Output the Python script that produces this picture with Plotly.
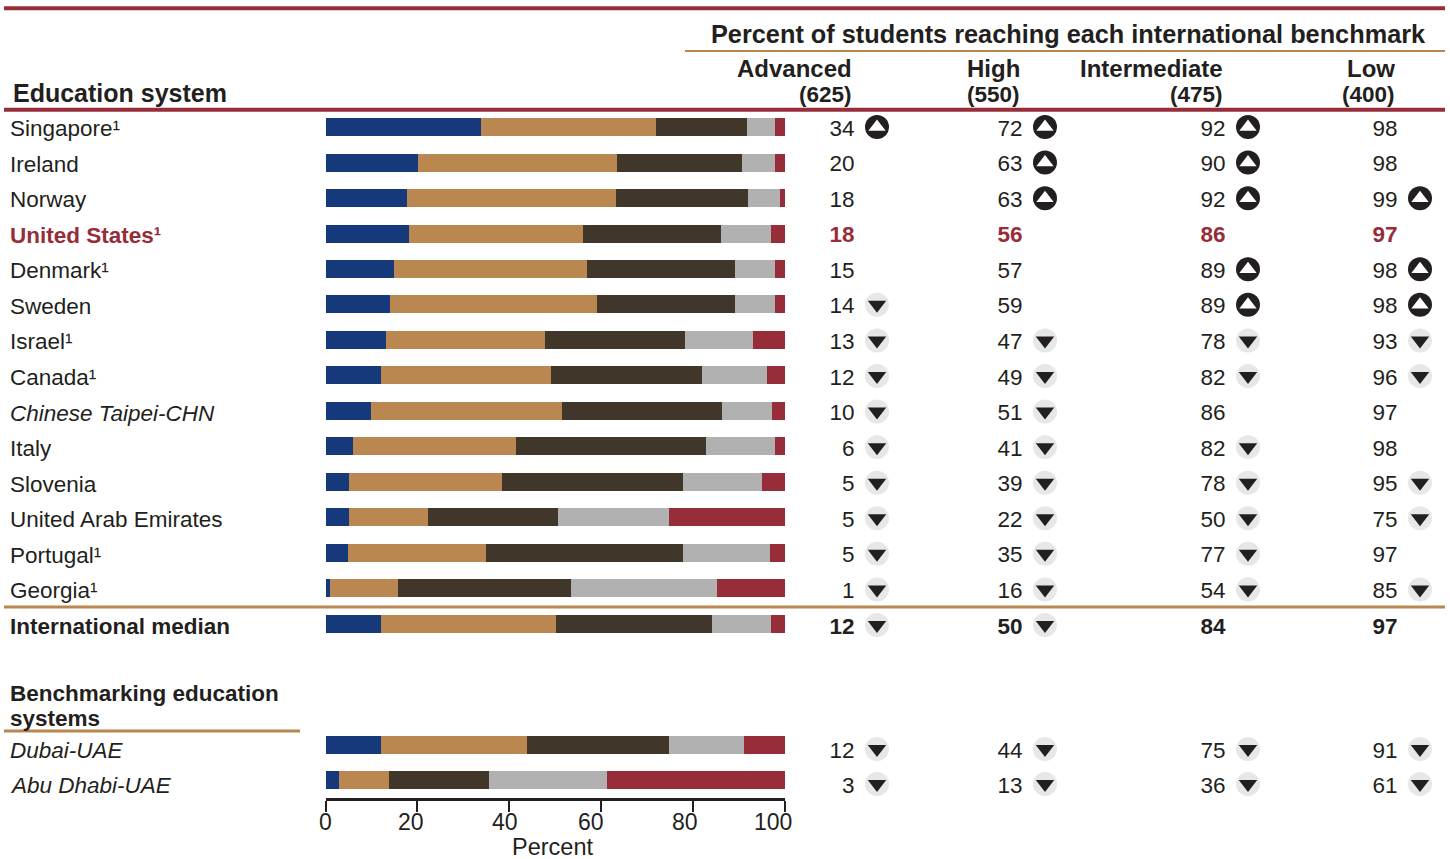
import plotly.graph_objects as go

W, H = 1450, 859
INK = "#231f20"
RED = "#962d39"
TAN = "#ba8751"
FONT = "Liberation Sans"

systems = ["Singapore¹", "Ireland", "Norway", "United States¹", "Denmark¹", "Sweden", "Israel¹",
           "Canada¹", "<i>Chinese Taipei-CHN</i>", "Italy", "Slovenia", "United Arab Emirates",
           "Portugal¹", "Georgia¹", "International median", "<i>Dubai-UAE</i>", "<i>Abu Dhabi-UAE</i>"]

# Percent reaching each benchmark
bar_advanced = [33.8, 20.0, 17.6, 18.0, 14.8, 13.9, 13.0, 12.0, 9.8, 5.9, 5.0, 5.0, 4.8, 0.9, 11.9, 12.0, 2.9]
bar_high = [71.9, 63.4, 63.2, 55.9, 56.9, 58.9, 47.6, 48.9, 51.4, 41.4, 38.4, 22.1, 34.9, 15.7, 50.0, 43.8, 13.7]
bar_intermediate = [91.7, 90.6, 91.9, 85.9, 88.9, 89.0, 78.1, 81.8, 86.1, 82.6, 77.7, 50.4, 77.8, 53.4, 84.0, 74.7, 35.5]
bar_low = [97.8, 97.8, 98.9, 96.8, 97.8, 97.8, 92.9, 96.0, 97.0, 97.8, 94.8, 74.6, 96.7, 85.0, 96.8, 90.9, 61.2]

# Rounded values printed in the table
table_advanced = [34, 20, 18, 18, 15, 14, 13, 12, 10, 6, 5, 5, 5, 1, 12, 12, 3]
table_high = [72, 63, 63, 56, 57, 59, 47, 49, 51, 41, 39, 22, 35, 16, 50, 44, 13]
table_intermediate = [92, 90, 92, 86, 89, 89, 78, 82, 86, 82, 78, 50, 77, 54, 84, 75, 36]
table_low = [98, 98, 99, 97, 98, 98, 93, 96, 97, 98, 95, 75, 97, 85, 97, 91, 61]

# Significance flags: u = higher than the U.S., d = lower, "" = no difference
sig_advanced = ["u", "", "", "", "", "d", "d", "d", "d", "d", "d", "d", "d", "d", "d", "d", "d"]
sig_high = ["u", "u", "u", "", "", "", "d", "d", "d", "d", "d", "d", "d", "d", "d", "d", "d"]
sig_intermediate = ["u", "u", "u", "", "u", "u", "d", "d", "", "d", "d", "d", "d", "d", "", "d", "d"]
sig_low = ["", "", "u", "", "u", "u", "d", "d", "", "", "d", "d", "", "d", "", "d", "d"]

tick_values = [0, 20, 40, 60, 80, 100]
tick_shifts = [0, -6, -4, -10, -8, -12]

rows = list(range(15)) + [17.49, 18.47]
bar_rows = [i * 0.998 for i in range(15)] + [17.37, 18.36]
US, MEDIAN = 3, 14

ROW0, STEP = 127.0, 35.57
AX_TOP, AX_BOT = 109, 797.5
y_range = [(AX_BOT - ROW0) / STEP, (AX_TOP - ROW0) / STEP]
y_domain = [1 - AX_BOT / H, 1 - AX_TOP / H]
px = lambda v: v / W
py = lambda v: 1 - v / H

fig = go.Figure()

segments = [
    (bar_advanced, [0] * 17, "#15397a"),
    (bar_high, bar_advanced, TAN),
    (bar_intermediate, bar_high, "#40372a"),
    (bar_low, bar_intermediate, "#b1b1b1"),
    ([100] * 17, bar_low, RED),
]
for top, bottom, color in segments:
    fig.add_trace(go.Bar(x=[a - b for a, b in zip(top, bottom)], base=bottom, y=bar_rows, orientation="h",
                         width=18 / STEP, marker=dict(color=color, line_width=0),
                         xaxis="x", yaxis="y", showlegend=False))

columns = [
    (table_advanced, sig_advanced, 854.5, 877),
    (table_high, sig_high, 1022.5, 1045),
    (table_intermediate, sig_intermediate, 1225.5, 1248),
    (table_low, sig_low, 1397.5, 1420),
]
for values, flags, text_x, mark_x in columns:
    labels = []
    for i, v in enumerate(values):
        labels.append(f"<b>{v}</b>" if i in (US, MEDIAN) else str(v))
    fig.add_trace(go.Scatter(x=[text_x] * 17, y=[r + 3 / STEP for r in rows], mode="text", text=labels,
                             textposition="middle left",
                             textfont=dict(family=FONT, size=22.5,
                                           color=[RED if i == US else INK for i in range(17)]),
                             xaxis="x2", yaxis="y", showlegend=False, cliponaxis=False))
    ups = [r for r, f in zip(rows, flags) if f == "u"]
    downs = [r for r, f in zip(rows, flags) if f == "d"]
    for ys, bg, fg, sym, sz in [
        (downs, "#e6e7e8", INK, "triangle-down", 16),
        (ups, INK, "white", "triangle-up", 15),
    ]:
        fig.add_trace(go.Scatter(x=[mark_x] * len(ys), y=ys, mode="markers",
                                 marker=dict(symbol="circle", size=24, color=bg, line_width=0),
                                 xaxis="x2", yaxis="y", showlegend=False, cliponaxis=False))
        fig.add_trace(go.Scatter(x=[mark_x] * len(ys), y=ys, mode="markers",
                                 marker=dict(symbol=sym, size=sz, color=fg, line_width=0),
                                 xaxis="x2", yaxis="y", showlegend=False, cliponaxis=False))

ann = []
def text(s, x, y, anchor="left", size=22.5, color=INK):
    ann.append(dict(text=s, x=px(x), y=py(y), xref="paper", yref="paper", xanchor=anchor, yanchor="middle",
                    showarrow=False, align=anchor, font=dict(family=FONT, size=size, color=color)))

for i, (name, r) in enumerate(zip(systems, rows)):
    label = f"<b>{name}</b>" if i in (US, MEDIAN) else name
    ann.append(dict(text=label, x=px(8), y=r + 1.5 / STEP, xref="paper", yref="y", xanchor="left", yanchor="middle",
                    showarrow=False, font=dict(family=FONT, size=22.5, color=RED if i == US else INK)))

text("<b>Percent of students reaching each international benchmark</b>", 709, 34, size=25.3)
text("<b>Education system</b>", 11, 93, size=25)
for head, score, right in [("Advanced", "(625)", 854), ("High", "(550)", 1022),
                           ("Intermediate", "(475)", 1225), ("Low", "(400)", 1397)]:
    text(f"<b>{head}</b>", right, 68, "right", 24)
    text(f"<b>{score}</b>", right, 94, "right", 22.5)
text("<b>Benchmarking education</b>", 8, 693, size=22.5)
text("<b>systems</b>", 8, 718, size=22.5)
text("Percent", 552, 847, "center", 23.5)

for v, s in zip(tick_values, tick_shifts):
    ann.append(dict(text=str(v), x=v, xref="x", xshift=s, y=py(822), yref="paper", xanchor="center",
                    yanchor="middle", showarrow=False, font=dict(family=FONT, size=23, color=INK)))

def rule(x0, x1, y, w, color):
    return dict(type="line", xref="paper", yref="paper", x0=px(x0), x1=px(x1), y0=py(y), y1=py(y),
                line=dict(color=color, width=w))

fig.update_layout(
    width=W, height=H, margin=dict(l=0, r=0, t=0, b=0), paper_bgcolor="white", plot_bgcolor="rgba(0,0,0,0)",
    barmode="stack", bargap=0, showlegend=False, annotations=ann,
    shapes=[rule(4, 1445, 8.3, 4, RED), rule(4, 1445, 109.7, 4, RED), rule(685, 1445, 51, 2, TAN),
            rule(4, 1445, 607, 3, TAN), rule(4, 300, 731, 3, TAN)],
    xaxis=dict(domain=[325.5 / W, 785 / W], range=[0, 100], tickvals=tick_values, showticklabels=False,
               ticks="outside", ticklen=11, tickwidth=2, tickcolor=INK, showline=True, linewidth=3,
               linecolor=INK, showgrid=False, zeroline=False, anchor="y"),
    xaxis2=dict(domain=[0, 1], range=[0, W], visible=False, anchor="y", fixedrange=True),
    yaxis=dict(domain=y_domain, range=y_range, visible=False, anchor="x", fixedrange=True),
)
fig.write_html("out.html", config={"displayModeBar": False},
               post_script="document.body.style.margin='0';document.documentElement.style.overflow='hidden';")
